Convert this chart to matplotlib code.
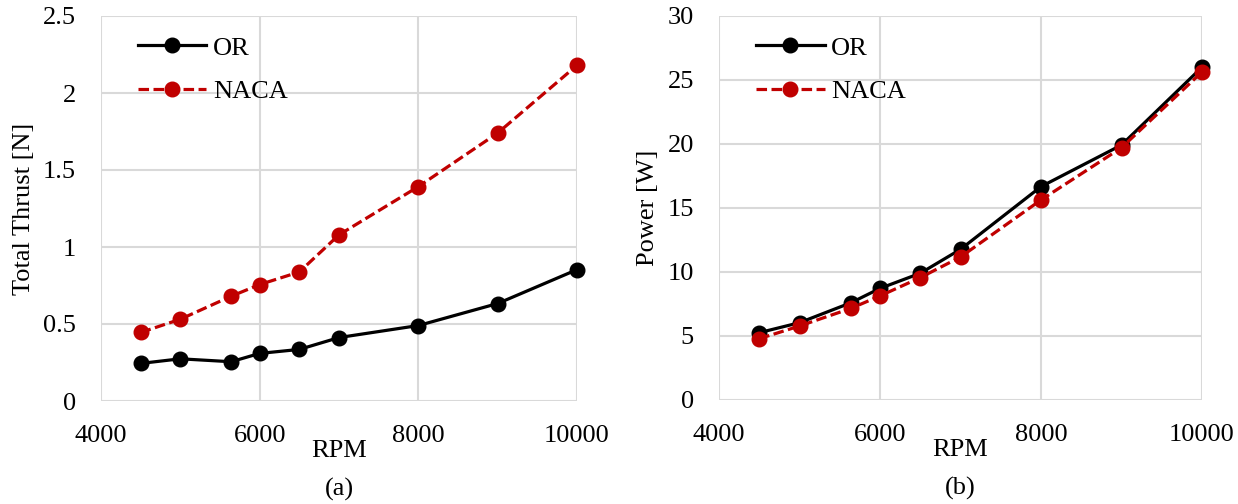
import matplotlib.pyplot as plt

plt.rcParams['font.family'] = ['Liberation Serif', 'DejaVu Serif']

rpm = [4500, 5000, 5640, 6000, 6500, 7000, 8000, 9000, 10000]

thrust_or = [0.244, 0.274, 0.255, 0.309, 0.335, 0.412, 0.490, 0.633, 0.853]
thrust_naca = [0.445, 0.531, 0.680, 0.756, 0.838, 1.079, 1.392, 1.740, 2.180]

power_or = [5.26, 6.04, 7.6, 8.72, 9.9, 11.77, 16.67, 19.92, 26.0]
power_naca = [4.79, 5.78, 7.16, 8.13, 9.56, 11.17, 15.63, 19.71, 25.63]

red = '#C00000'
fs = 19

fig = plt.figure(figsize=(12.38, 5.04), dpi=100)
ax1 = fig.add_axes([101 / 1238, 1 - 401 / 504, 476 / 1238, 385 / 504])
ax2 = fig.add_axes([719 / 1238, 1 - 400 / 504, 483 / 1238, 384 / 504])

panels = [
    (ax1, thrust_or, thrust_naca, 'Total Thrust [N]', 2.5, [0, 0.5, 1, 1.5, 2, 2.5],
     ['0', '0.5', '1', '1.5', '2', '2.5'], '(a)'),
    (ax2, power_or, power_naca, 'Power [W]', 30, [0, 5, 10, 15, 20, 25, 30],
     ['0', '5', '10', '15', '20', '25', '30'], '(b)'),
]

for ax, y_or, y_naca, ylabel, ymax, yticks, ylabels, tag in panels:
    ax.plot(rpm, y_or, color='black', linestyle='-', linewidth=2.3,
            marker='o', markersize=10.5, label='OR', zorder=3, clip_on=False)
    ax.plot(rpm, y_naca, color=red, linestyle=(0, (3.3, 1.4)), linewidth=2.3,
            marker='o', markersize=10.5, label='NACA', zorder=3, clip_on=False)
    ax.set_xlim(4000, 10000)
    ax.set_ylim(0, ymax)
    ax.set_xticks([4000, 6000, 8000, 10000])
    ax.set_yticks(yticks)
    ax.set_yticklabels(ylabels)
    ax.grid(True, color='#d9d9d9', linewidth=1.5)
    ax.set_axisbelow(True)
    for s in ax.spines.values():
        s.set_visible(False)
    ax.tick_params(length=0, labelsize=fs)
    ax.tick_params(axis='y', pad=18)
    ax.tick_params(axis='x', pad=17)
    ax.set_ylabel(ylabel, fontsize=fs, labelpad=6)
    ax.set_xlabel('RPM', fontsize=fs, labelpad=-5)
    ax.legend(loc='upper left', frameon=False, fontsize=fs, handlelength=2.6,
              handletextpad=0.25, labelspacing=0.75, borderaxespad=0.0,
              bbox_to_anchor=(0.055, 0.975))
    ax.text(0.5, -0.2, tag, transform=ax.transAxes, ha='center', va='top', fontsize=fs)

fig.savefig('out.png', dpi=100)
